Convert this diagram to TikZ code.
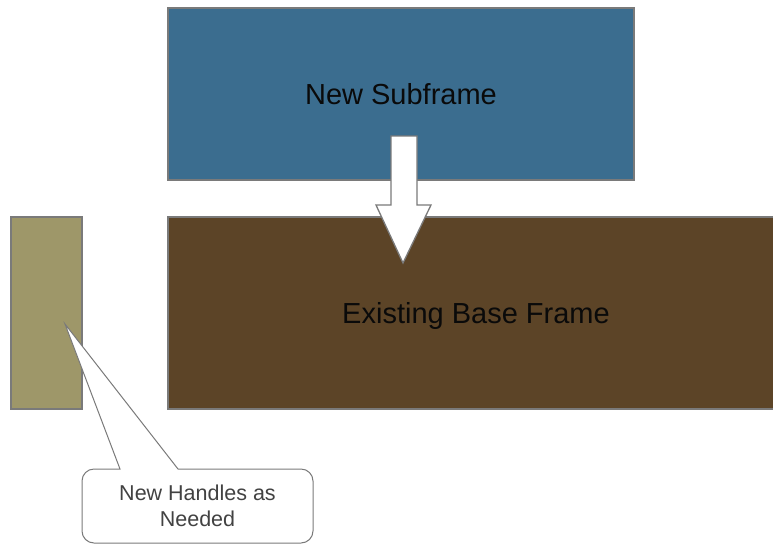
\documentclass[tikz,border=0pt]{standalone}
\usepackage{fontspec}
\setmainfont{Liberation Sans}
\definecolor{sfBlue}{HTML}{3B6D8F}
\definecolor{sfBrown}{HTML}{5C4427}
\definecolor{sfOlive}{HTML}{9E9769}
\definecolor{sfEdge}{HTML}{7A7A7A}
\definecolor{sfInk}{HTML}{0A0A0A}
\definecolor{sfGray}{HTML}{424242}
\tikzset{
  sf frame/.style={draw=sfEdge, line width=1.3pt, inner sep=0pt, text=sfInk,
    font=\fontsize{29}{34}\selectfont, text height=20.8pt, text depth=0pt},
  sf push/.style={draw=sfEdge, fill=white, line width=1.3pt, line join=miter},
  sf callout/.style={draw=sfEdge, fill=white, line width=1pt},
  sf note/.style={text=sfGray, font=\fontsize{21.5}{26}\selectfont, align=center, inner sep=0pt},
}

\begin{document}
\begin{tikzpicture}[x=1pt,y=-1pt]
  \useasboundingbox (0,0) rectangle (773,544);
  % frames
  \node[sf frame, fill=sfBlue, minimum width=466pt, minimum height=172pt] (subframe) at (401,94) {New Subframe};
  \node[sf frame, fill=sfBrown, minimum width=616pt, minimum height=192pt] (baseframe) at (476,313) {Existing Base Frame};
  % block arrow: subframe goes onto the base frame
  \draw[sf push] (391,136) -- (417,136) -- (417,205) -- (431,205) -- (403,263)
    -- (376,205) -- (391,205) -- cycle;
  % handle
  \node[sf frame, fill=sfOlive, minimum width=71pt, minimum height=192pt] (handle) at (46.5,313) {};
  \coordinate (handle tip) at (65,324);
  % speech bubble pointing at the handle
  \draw[sf callout] (82,506) [rounded corners=12pt] -- (82,469) [sharp corners] -- (120,469)
    -- (handle tip) -- (178,469) [rounded corners=12pt] -- (313,469) -- (313,543) -- (82,543) -- cycle;
  \node[sf note] (note) at (197.5,506) {New Handles as\\Needed};
\end{tikzpicture}
\end{document}
